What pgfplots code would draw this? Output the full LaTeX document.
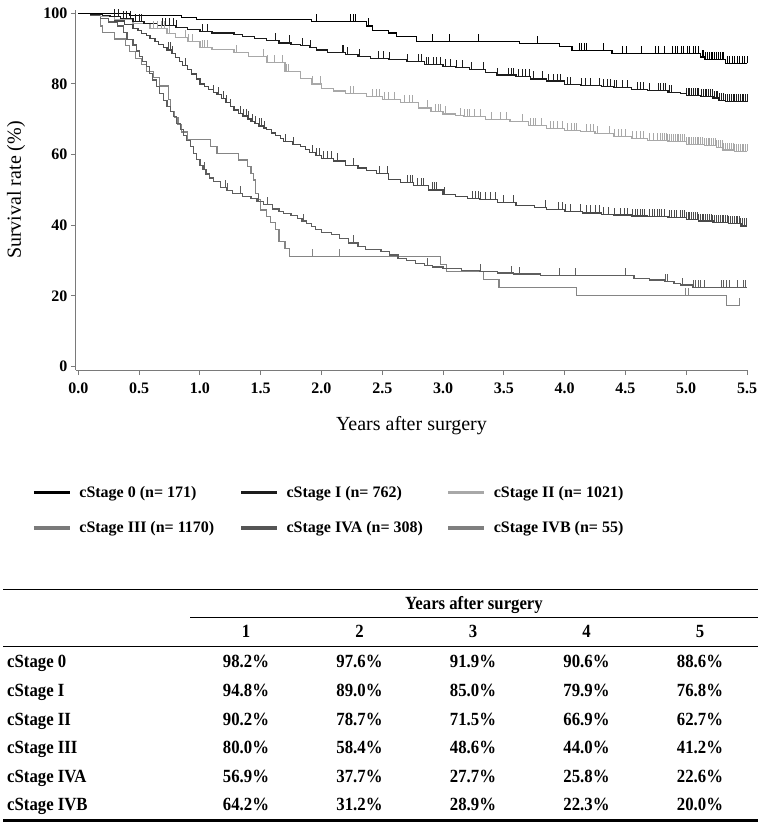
\documentclass[border=0pt]{standalone}
\usepackage{fontspec}
\setmainfont{Liberation Serif}
\newfontfamily\tabfont[FakeStretch=0.9]{Liberation Serif}
\usepackage{pgfplots}
\pgfplotsset{compat=1.18}
\definecolor{cA}{HTML}{000000}
\definecolor{cB}{HTML}{1C1C1C}
\definecolor{cC}{HTML}{A8A8A8}
\definecolor{cD}{HTML}{4A4A4A}
\definecolor{cE}{HTML}{5E5E5E}
\definecolor{cF}{HTML}{858585}
\definecolor{lD}{HTML}{7A7A7A}
\definecolor{lE}{HTML}{555555}
\definecolor{lF}{HTML}{7F7F7F}
\definecolor{axgray}{HTML}{7A7A7A}
\pgfdeclareplotmark{cens}{%
  \pgfpathmoveto{\pgfqpoint{0pt}{0pt}}%
  \pgfpathlineto{\pgfqpoint{0pt}{7.5pt}}%
  \pgfusepathqstroke}
\newcommand\tf{\tabfont\bfseries\fontsize{18.6}{18.6}\selectfont}
\begin{document}
\begin{tikzpicture}
\useasboundingbox (0,0) rectangle (767pt,822pt);
\begin{axis}[
  at={(75.9pt,451.8pt)}, anchor=south west,
  width=671.1pt, height=360.5pt, scale only axis,
  xmin=-0.02, xmax=5.5, ymin=-1, ymax=101,
  axis lines=left, axis line style={-, draw=axgray, line width=1.1pt},
  xtick={0,0.5,1,1.5,2,2.5,3,3.5,4,4.5,5,5.5}, ytick={0,20,40,60,80,100},
  tick align=outside, major tick length=5pt,
  tick style={draw=axgray, line width=1pt},
  xticklabel style={yshift=-4pt, font=\bfseries\fontsize{16}{16}\selectfont, /pgf/number format/.cd, fixed, fixed zerofill, precision=1, assume math mode=true},
  yticklabel style={font=\bfseries\fontsize{16}{16}\selectfont, /pgf/number format/assume math mode=true},
  xlabel={Years after surgery}, ylabel={Survival rate (\%)},
  xlabel style={at={(axis description cs:0.5,-0.155)}, anchor=center, font=\fontsize{20}{20}\selectfont},
  ylabel style={at={(axis description cs:-0.089,0.5)}, anchor=center, font=\fontsize{20}{20}\selectfont},
  clip=false,
  legend columns=3,
  legend cell align=left,
  legend image code/.code={\draw[line width=3.2pt] (0pt,0pt) -- (36pt,0pt);},
  legend style={at={(axis description cs:-0.0654,-0.3184)}, anchor=north west,
    draw=none, fill=none, inner sep=0pt, row sep=21pt,
    font=\fontsize{16}{16}\bfseries\selectfont,
    /tikz/every even column/.append style={column sep=16pt},
    nodes={inner sep=1pt}},
]
% cStage IVB
\addplot[const plot, color=cF, line width=1.2pt, forget plot] coordinates {
(0,100)(0.18,96.4)(0.20,94.5)(0.30,92.7)(0.39,90.9)(0.42,89.1)(0.47,87.3)(0.52,85.5)(0.56,83.6)(0.62,81.8)(0.67,79.4)(0.74,75.7)(0.76,72.2)(0.79,70.4)(0.82,68.6)(0.85,66.4)(0.90,64.2)(1.09,62.3)(1.14,60.4)(1.32,58.5)(1.39,56.6)(1.42,54.7)(1.44,52.8)(1.46,49.1)(1.48,47.2)(1.50,44.3)(1.55,42.5)(1.58,40.8)(1.62,38.9)(1.65,35.5)(1.70,33.5)(1.74,31.2)(2.98,28.9)(3.03,26.9)(3.33,24.7)(3.46,22.5)(4.10,20.2)(5.33,17.3)(5.44,17.3)};
\addplot[only marks, mark=cens, color=cF, mark options={line width=1pt}, forget plot] coordinates {
(1.93,31.2)(2.15,31.2)(4.99,20.2)(5.02,20.2)(5.44,17.3)};
% cStage IVA
\addplot[const plot, color=cE, line width=1.2pt, forget plot] coordinates {
(0,100)(0.1,99.4)(0.18,98.5)(0.25,97.5)(0.32,96.4)(0.37,94.5)(0.40,92.5)(0.45,91.0)(0.48,89.3)(0.5,87.7)(0.53,86.3)(0.56,84.9)(0.585,83.0)(0.61,81.1)(0.64,79.2)(0.67,77.3)(0.70,75.4)(0.73,73.5)(0.755,72.1)(0.78,70.7)(0.81,68.8)(0.84,67.0)(0.865,65.5)(0.89,64.1)(0.92,62.2)(0.95,60.4)(0.975,58.6)(1.0,56.9)(1.025,55.7)(1.05,54.5)(1.08,53.4)(1.11,52.3)(1.17,50.8)(1.22,49.9)(1.27,49.0)(1.35,48.2)(1.42,47.6)(1.47,46.7)(1.52,45.8)(1.6,44.6)(1.65,44.0)(1.69,43.4)(1.75,42.7)(1.8,42.0)(1.84,41.2)(1.88,40.5)(1.92,39.7)(1.95,38.9)(2.0,37.9)(2.08,37.4)(2.15,36.2)(2.22,35.0)(2.3,34.0)(2.36,33.2)(2.49,32.5)(2.56,31.6)(2.63,30.7)(2.7,30.0)(2.77,29.3)(2.85,28.6)(2.91,28.2)(3.0,27.7)(3.15,27.3)(3.3,26.9)(3.45,26.5)(3.58,26.2)(3.8,25.9)(3.99,25.7)(4.57,25.0)(4.7,24.5)(4.82,24.0)(4.9,23.5)(4.95,23.1)(5.05,22.5)(5.5,22.5)};
\addplot[only marks, mark=cens, color=cE, mark options={line width=1pt}, forget plot] coordinates {
(1.04,55.7)(1.21,50.8)(1.23,49.9)(1.33,49.0)(1.48,46.7)(1.56,45.8)(1.85,41.2)(2.26,35.0)(2.87,28.6)(3.31,26.9)(3.56,26.5)(3.63,26.2)(3.96,25.9)(4.09,25.7)(4.50,25.7)(4.83,24.0)(4.85,24.0)(4.97,23.1)(5.06,22.5)(5.08,22.5)(5.10,22.5)(5.12,22.5)(5.15,22.5)(5.29,22.5)(5.31,22.5)(5.33,22.5)(5.36,22.5)(5.42,22.5)(5.47,22.5)(5.49,22.5)};
% cStage III
\addplot[const plot, color=cD, line width=1.2pt, forget plot] coordinates {
(0,100)(0.1,99.6)(0.18,99.0)(0.3,97.8)(0.38,96.8)(0.45,95.7)(0.49,95.0)(0.52,94.3)(0.56,93.6)(0.59,92.9)(0.63,92.0)(0.66,91.2)(0.70,90.4)(0.73,89.6)(0.77,88.5)(0.80,87.5)(0.83,86.4)(0.86,85.3)(0.90,84.0)(0.93,82.8)(0.97,81.4)(1.00,80.0)(1.04,79.2)(1.07,78.4)(1.11,77.6)(1.14,76.9)(1.18,75.8)(1.21,74.7)(1.25,73.6)(1.28,72.6)(1.32,71.7)(1.35,70.9)(1.39,70.1)(1.42,69.3)(1.45,68.7)(1.48,68.1)(1.52,67.5)(1.55,67.0)(1.59,66.1)(1.62,65.3)(1.66,64.5)(1.69,63.7)(1.76,62.9)(1.83,62.2)(1.87,61.4)(1.9,60.6)(1.95,59.8)(2.0,59.0)(2.1,58.2)(2.2,57.0)(2.3,56.2)(2.37,55.5)(2.45,54.6)(2.55,53.0)(2.65,52.0)(2.76,51.3)(2.88,50.0)(3.0,48.8)(3.1,48.2)(3.2,47.6)(3.3,47.2)(3.45,46.4)(3.6,45.6)(3.75,45.0)(3.85,44.5)(4.0,43.9)(4.15,43.5)(4.3,43.1)(4.4,42.9)(4.55,42.6)(4.68,42.4)(4.85,42.1)(5.0,41.6)(5.1,41.2)(5.22,40.9)(5.35,40.4)(5.45,39.8)(5.5,39.8)};
\addplot[only marks, mark=cens, color=cD, mark options={line width=1pt}, forget plot] coordinates {
(0.74,89.6)(0.755,89.6)(0.775,88.5)(0.88,85.3)(1.115,77.6)(1.15,76.9)(1.19,75.8)(1.22,74.7)(1.255,73.6)(1.33,71.7)(1.36,70.9)(1.38,70.9)(1.40,70.1)(1.43,69.3)(1.46,68.7)(1.49,68.1)(1.51,68.1)(1.53,67.5)(1.70,63.7)(1.77,62.9)(1.93,60.6)(1.96,59.8)(1.98,59.8)(2.02,59.0)(2.05,59.0)(2.08,59.0)(2.13,58.2)(2.26,57.0)(2.48,54.6)(2.54,54.6)(2.71,52.0)(2.73,52.0)(2.75,52.0)(2.79,51.3)(2.82,51.3)(2.84,51.3)(2.91,50.0)(2.93,50.0)(2.95,50.0)(3.01,48.8)(3.24,47.6)(3.27,47.6)(3.29,47.6)(3.31,47.2)(3.35,47.2)(3.39,47.2)(3.43,47.2)(3.50,46.4)(3.58,46.4)(3.84,45.0)(3.95,44.5)(3.98,44.5)(4.01,43.9)(4.05,43.9)(4.13,43.9)(4.18,43.5)(4.21,43.5)(4.25,43.5)(4.29,43.5)(4.32,43.1)(4.36,43.1)(4.41,42.9)(4.46,42.9)(4.49,42.9)(4.52,42.9)(4.56,42.6)(4.58,42.6)(4.60,42.6)(4.62,42.6)(4.64,42.6)(4.66,42.6)(4.70,42.4)(4.72,42.4)(4.74,42.4)(4.76,42.4)(4.78,42.4)(4.80,42.4)(4.82,42.4)(4.86,42.1)(4.88,42.1)(4.90,42.1)(4.92,42.1)(4.95,42.1)(4.97,42.1)(4.985,42.1)(5.0,41.6)(5.015,41.6)(5.03,41.6)(5.045,41.6)(5.06,41.6)(5.075,41.6)(5.09,41.6)(5.1,41.2)(5.115,41.2)(5.13,41.2)(5.145,41.2)(5.16,41.2)(5.175,41.2)(5.19,41.2)(5.205,41.2)(5.22,40.9)(5.235,40.9)(5.25,40.9)(5.265,40.9)(5.28,40.9)(5.295,40.9)(5.31,40.9)(5.325,40.9)(5.34,40.9)(5.35,40.4)(5.365,40.4)(5.38,40.4)(5.395,40.4)(5.41,40.4)(5.425,40.4)(5.44,40.4)(5.45,39.8)(5.465,39.8)(5.48,39.8)(5.495,39.8)};
% cStage II
\addplot[const plot, color=cC, line width=1.2pt, forget plot] coordinates {
(0,100)(0.1,99.6)(0.18,99.0)(0.3,98.2)(0.45,97.1)(0.59,95.7)(0.73,94.3)(0.8,93.2)(0.9,92.0)(1.0,90.2)(1.1,89.8)(1.28,89.0)(1.4,87.7)(1.55,86.0)(1.7,83.6)(1.83,81.6)(1.92,80.0)(2.0,78.7)(2.1,78.0)(2.2,77.2)(2.37,76.4)(2.5,75.6)(2.65,74.8)(2.8,73.2)(2.9,72.2)(3.0,71.5)(3.1,71.0)(3.17,70.7)(3.35,70.0)(3.55,69.3)(3.7,68.3)(3.85,67.4)(4.0,66.9)(4.13,66.5)(4.25,65.9)(4.4,65.1)(4.55,64.6)(4.68,64.1)(4.85,63.6)(5.0,62.9)(5.15,62.5)(5.25,62.0)(5.3,61.3)(5.4,60.9)(5.5,60.9)};
\addplot[only marks, mark=cens, color=cC, mark options={line width=1pt}, forget plot] coordinates {
(0.62,95.7)(0.65,95.7)(0.68,95.7)(0.71,95.7)(0.75,94.3)(0.88,93.2)(0.91,92.0)(0.94,92.0)(1.02,90.2)(1.04,90.2)(1.06,90.2)(1.30,89.0)(1.52,87.7)(1.56,86.0)(1.61,86.0)(1.68,86.0)(1.71,83.6)(1.73,83.6)(1.93,80.0)(1.99,80.0)(2.24,77.2)(2.26,77.2)(2.42,76.4)(2.45,76.4)(2.48,76.4)(2.52,75.6)(2.55,75.6)(2.60,75.6)(2.68,74.8)(2.72,74.8)(2.75,74.8)(2.87,73.2)(2.94,72.2)(2.96,72.2)(2.98,72.2)(3.02,71.5)(3.14,71.0)(3.18,70.7)(3.20,70.7)(3.22,70.7)(3.26,70.7)(3.31,70.7)(3.40,70.0)(3.47,70.0)(3.52,70.0)(3.65,69.3)(3.72,68.3)(3.74,68.3)(3.76,68.3)(3.81,68.3)(3.88,67.4)(3.91,67.4)(3.94,67.4)(3.98,67.4)(4.02,66.9)(4.06,66.9)(4.08,66.9)(4.10,66.9)(4.18,66.5)(4.21,66.5)(4.24,66.5)(4.27,65.9)(4.37,65.9)(4.41,65.1)(4.44,65.1)(4.47,65.1)(4.50,65.1)(4.56,64.6)(4.59,64.6)(4.62,64.6)(4.65,64.6)(4.70,64.1)(4.73,64.1)(4.76,64.1)(4.79,64.1)(4.805,64.1)(4.82,64.1)(4.835,64.1)(4.85,63.6)(4.865,63.6)(4.88,63.6)(4.895,63.6)(4.91,63.6)(4.925,63.6)(4.94,63.6)(4.955,63.6)(4.97,63.6)(4.985,63.6)(5.0,62.9)(5.015,62.9)(5.03,62.9)(5.045,62.9)(5.06,62.9)(5.075,62.9)(5.09,62.9)(5.105,62.9)(5.12,62.9)(5.135,62.9)(5.15,62.5)(5.165,62.5)(5.18,62.5)(5.195,62.5)(5.21,62.5)(5.225,62.5)(5.24,62.5)(5.25,62.0)(5.265,62.0)(5.28,62.0)(5.295,62.0)(5.31,61.3)(5.325,61.3)(5.34,61.3)(5.355,61.3)(5.37,61.3)(5.385,61.3)(5.40,60.9)(5.415,60.9)(5.43,60.9)(5.445,60.9)(5.46,60.9)(5.475,60.9)(5.49,60.9)(5.5,60.9)};
% cStage I
\addplot[const plot, color=cB, line width=1.2pt, forget plot] coordinates {
(0,100)(0.1,99.7)(0.2,99.3)(0.26,99.0)(0.35,98.4)(0.45,97.6)(0.54,97.1)(0.65,96.6)(0.8,96.0)(0.9,95.4)(1.0,94.8)(1.1,94.4)(1.28,94.0)(1.35,93.4)(1.45,92.8)(1.55,92.2)(1.65,91.6)(1.75,91.2)(1.83,90.8)(1.9,90.2)(1.96,89.6)(2.05,89.0)(2.2,88.3)(2.3,87.7)(2.4,87.3)(2.55,86.8)(2.7,86.3)(2.85,85.6)(3.0,85.0)(3.1,84.6)(3.22,84.0)(3.35,83.2)(3.44,82.5)(3.6,82.0)(3.72,81.4)(3.85,80.8)(4.0,79.9)(4.13,79.6)(4.3,79.2)(4.4,78.9)(4.55,78.5)(4.68,78.1)(4.85,77.6)(4.95,77.2)(5.0,76.8)(5.12,76.5)(5.22,76.0)(5.27,75.4)(5.32,75.0)(5.5,75.0)};
\addplot[only marks, mark=cens, color=cB, mark options={line width=1pt}, forget plot] coordinates {
(0.30,99.0)(0.33,99.0)(0.37,98.4)(0.40,98.4)(0.43,98.4)(0.47,97.6)(0.50,97.6)(0.52,97.6)(0.69,96.6)(0.72,96.6)(0.75,96.6)(0.78,96.6)(0.81,96.0)(1.02,94.8)(1.06,94.8)(1.62,92.2)(1.74,91.6)(1.84,90.8)(1.91,90.2)(2.17,89.0)(2.18,89.0)(2.21,88.3)(2.31,87.7)(2.47,87.3)(2.51,87.3)(2.56,86.8)(2.71,86.3)(2.80,86.3)(2.82,86.3)(2.86,85.6)(2.88,85.6)(2.92,85.6)(2.95,85.6)(2.98,85.6)(3.02,85.0)(3.06,85.0)(3.11,84.6)(3.16,84.6)(3.23,84.0)(3.33,84.0)(3.45,82.5)(3.54,82.5)(3.56,82.5)(3.58,82.5)(3.62,82.0)(3.65,82.0)(3.68,82.0)(3.71,82.0)(3.74,81.4)(3.82,81.4)(3.87,80.8)(3.91,80.8)(3.94,80.8)(3.97,80.8)(4.02,79.9)(4.05,79.9)(4.14,79.6)(4.17,79.6)(4.21,79.6)(4.29,79.6)(4.32,79.2)(4.35,79.2)(4.38,79.2)(4.41,78.9)(4.43,78.9)(4.48,78.9)(4.52,78.9)(4.60,78.5)(4.62,78.5)(4.65,78.5)(4.70,78.1)(4.77,78.1)(4.79,78.1)(4.81,78.1)(4.83,78.1)(4.86,77.6)(4.88,77.6)(5.00,76.8)(5.015,76.8)(5.03,76.8)(5.045,76.8)(5.06,76.8)(5.075,76.8)(5.09,76.8)(5.105,76.8)(5.125,76.5)(5.14,76.5)(5.155,76.5)(5.17,76.5)(5.185,76.5)(5.20,76.5)(5.215,76.5)(5.23,76.0)(5.245,76.0)(5.26,76.0)(5.275,75.4)(5.29,75.4)(5.305,75.4)(5.325,75.0)(5.34,75.0)(5.355,75.0)(5.37,75.0)(5.385,75.0)(5.40,75.0)(5.415,75.0)(5.43,75.0)(5.445,75.0)(5.46,75.0)(5.475,75.0)(5.49,75.0)(5.5,75.0)};
% cStage 0
\addplot[const plot, color=cA, line width=1.2pt, forget plot] coordinates {
(0,100)(0.42,99.4)(0.85,98.8)(0.97,98.2)(1.92,97.6)(2.37,96.4)(2.42,95.2)(2.55,94.4)(2.62,93.4)(2.78,91.9)(3.63,91.4)(3.96,90.6)(4.06,89.4)(4.39,88.6)(5.12,87.6)(5.15,86.8)(5.32,85.8)(5.5,85.8)};
\addplot[only marks, mark=cens, color=cA, mark options={line width=1pt}, forget plot] coordinates {
(1.96,97.6)(2.24,97.6)(2.26,97.6)(2.28,97.6)(2.39,96.4)(2.91,91.9)(3.05,91.9)(3.29,91.9)(3.78,91.4)(4.12,89.4)(4.14,89.4)(4.16,89.4)(4.18,89.4)(4.32,89.4)(4.48,88.6)(4.51,88.6)(4.63,88.6)(4.75,88.6)(4.77,88.6)(4.82,88.6)(4.89,88.6)(4.91,88.6)(4.93,88.6)(4.96,88.6)(4.98,88.6)(5.01,88.6)(5.03,88.6)(5.06,88.6)(5.08,88.6)(5.10,88.6)(5.13,87.6)(5.145,87.6)(5.16,86.8)(5.175,86.8)(5.19,86.8)(5.205,86.8)(5.22,86.8)(5.235,86.8)(5.25,86.8)(5.265,86.8)(5.28,86.8)(5.295,86.8)(5.31,86.8)(5.34,85.8)(5.36,85.8)(5.38,85.8)(5.40,85.8)(5.42,85.8)(5.44,85.8)(5.46,85.8)(5.48,85.8)(5.5,85.8)};
% legend
\addlegendimage{color=cA}\addlegendentry{\makebox[150pt][l]{\hspace{7pt}cStage 0 (n= 171)}}
\addlegendimage{color=cB}\addlegendentry{\makebox[150pt][l]{\hspace{7pt}cStage I (n= 762)}}
\addlegendimage{color=cC}\addlegendentry{\makebox[150pt][l]{\hspace{7pt}cStage II (n= 1021)}}
\addlegendimage{color=lD}\addlegendentry{\makebox[150pt][l]{\hspace{7pt}cStage III (n= 1170)}}
\addlegendimage{color=lE}\addlegendentry{\makebox[150pt][l]{\hspace{7pt}cStage IVA (n= 308)}}
\addlegendimage{color=lF}\addlegendentry{\makebox[150pt][l]{\hspace{7pt}cStage IVB (n= 55)}}
\end{axis}
% table
\draw[line width=1.3pt] (3pt,232.7pt) -- (758pt,232.7pt);
\draw[line width=1.1pt] (190pt,204.3pt) -- (758pt,204.3pt);
\draw[line width=1.2pt] (3pt,175.3pt) -- (758pt,175.3pt);
\draw[line width=2.8pt] (3pt,1.5pt) -- (758pt,1.5pt);
\node[anchor=base, inner sep=0pt, font=\tf] at (474pt,212pt) {Years after surgery};
\foreach \k [count=\j from 0] in {1,2,3,4,5}
  \node[anchor=base, inner sep=0pt, font=\tf] at (246pt+113.5pt*\j,184.1pt) {\k};
\foreach \lab/\a/\b/\c/\d/\e [count=\i from 0] in {
  cStage 0/98.2/97.6/91.9/90.6/88.6,
  cStage I/94.8/89.0/85.0/79.9/76.8,
  cStage II/90.2/78.7/71.5/66.9/62.7,
  cStage III/80.0/58.4/48.6/44.0/41.2,
  cStage IVA/56.9/37.7/27.7/25.8/22.6,
  cStage IVB/64.2/31.2/28.9/22.3/20.0}{
  \node[anchor=base west, inner sep=0pt, font=\tf] at (7pt,154.1pt-28.6pt*\i) {\lab};
  \node[anchor=base, inner sep=0pt, font=\tf] at (246pt,154.1pt-28.6pt*\i) {\a\%};
  \node[anchor=base, inner sep=0pt, font=\tf] at (359.5pt,154.1pt-28.6pt*\i) {\b\%};
  \node[anchor=base, inner sep=0pt, font=\tf] at (473pt,154.1pt-28.6pt*\i) {\c\%};
  \node[anchor=base, inner sep=0pt, font=\tf] at (586.5pt,154.1pt-28.6pt*\i) {\d\%};
  \node[anchor=base, inner sep=0pt, font=\tf] at (700pt,154.1pt-28.6pt*\i) {\e\%};
}
\end{tikzpicture}
\end{document}
